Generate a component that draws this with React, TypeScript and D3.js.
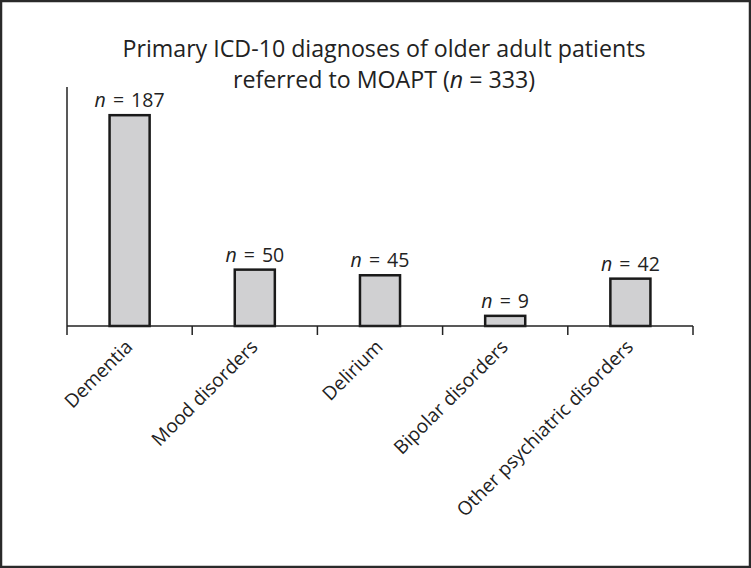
import { useEffect, useRef } from 'react';
import * as d3 from 'd3';

const categories = ['Dementia', 'Mood disorders', 'Delirium', 'Bipolar disorders', 'Other psychiatric disorders'];
const counts = [187, 50, 45, 9, 42];
const titleLines = ['Primary ICD-10 diagnoses of older adult patients', 'referred to MOAPT (n = 333)'];
const yMax = 212;

export default function App() {
  const svgRef = useRef<SVGSVGElement>(null);

  useEffect(() => {
    if (!svgRef.current) return;
    const width = 751;
    const height = 568;
    const svg = d3.select(svgRef.current);
    svg.selectAll('*').remove();

    // frame
    svg.append('rect')
      .attr('x', 1).attr('y', 1)
      .attr('width', width - 2).attr('height', height - 2)
      .attr('fill', '#fff')
      .attr('stroke', '#2a2a2a')
      .attr('stroke-width', 2.5);

    const margin = { left: 67, right: 58, top: 87, bottom: 242 };
    const innerW = width - margin.left - margin.right;
    const innerH = height - margin.top - margin.bottom;
    const g = svg.append('g').attr('transform', `translate(${margin.left},${margin.top})`);

    const x = d3.scaleBand().domain(categories).range([0, innerW]).paddingInner(0.68).paddingOuter(0.34);
    const y = d3.scaleLinear().domain([0, yMax]).range([innerH, 0]);

    // title
    const font = '"Open Sans", "Noto Sans", sans-serif';
    const title = svg.append('text')
      .attr('text-anchor', 'middle')
      .attr('font-family', font)
      .attr('font-size', 23.2)
      .attr('fill', '#222');
    title.append('tspan').attr('x', 384).attr('y', 57).text(titleLines[0]);
    const l2 = title.append('tspan').attr('x', 384).attr('y', 88);
    l2.append('tspan').text('referred to MOAPT (');
    l2.append('tspan').attr('font-style', 'italic').text('n');
    l2.append('tspan').text(' = 333)');

    // bars
    g.selectAll('.bar')
      .data(categories)
      .enter()
      .append('rect')
      .attr('x', d => x(d)!)
      .attr('y', (d, i) => y(counts[i]))
      .attr('width', x.bandwidth())
      .attr('height', (d, i) => innerH - y(counts[i]))
      .attr('fill', '#d0d0d2')
      .attr('stroke', '#1a1a1a')
      .attr('stroke-width', 2.5);

    // value labels
    const vl = g.selectAll('.val')
      .data(categories)
      .enter()
      .append('text')
      .attr('x', d => x(d)! + x.bandwidth() / 2)
      .attr('y', (d, i) => y(counts[i]) - 8)
      .attr('text-anchor', 'middle')
      .attr('font-family', font)
      .attr('font-size', 19.5)
      .attr('word-spacing', 2)
      .attr('fill', '#222');
    vl.append('tspan').attr('font-style', 'italic').text('n');
    vl.append('tspan').text((d, i) => ` = ${counts[i]}`);

    // y axis line
    g.append('line')
      .attr('x1', 0).attr('x2', 0)
      .attr('y1', y(yMax)).attr('y2', innerH)
      .attr('stroke', '#222').attr('stroke-width', 1.5);

    // x axis line + ticks between categories
    g.append('line')
      .attr('x1', 0).attr('x2', innerW)
      .attr('y1', innerH).attr('y2', innerH)
      .attr('stroke', '#222').attr('stroke-width', 1.5);
    const step = x.step();
    d3.range(categories.length + 1).forEach(i => {
      g.append('line')
        .attr('x1', i * step).attr('x2', i * step)
        .attr('y1', innerH).attr('y2', innerH + 9)
        .attr('stroke', '#222').attr('stroke-width', 1.5);
    });

    // rotated category labels
    g.selectAll('.cat')
      .data(categories)
      .enter()
      .append('text')
      .attr('transform', d => `translate(${x(d)! + x.bandwidth() / 2 + 4},${innerH + 22}) rotate(-45)`)
      .attr('text-anchor', 'end')
      .attr('font-family', font)
      .attr('font-size', 19)
      .attr('fill', '#222')
      .text(d => d);
  }, []);

  return (
    <div style={{ position: 'absolute', left: 0, top: 0 }}>
      <svg ref={svgRef} width={751} height={568} style={{ display: 'block' }} />
    </div>
  );
}
